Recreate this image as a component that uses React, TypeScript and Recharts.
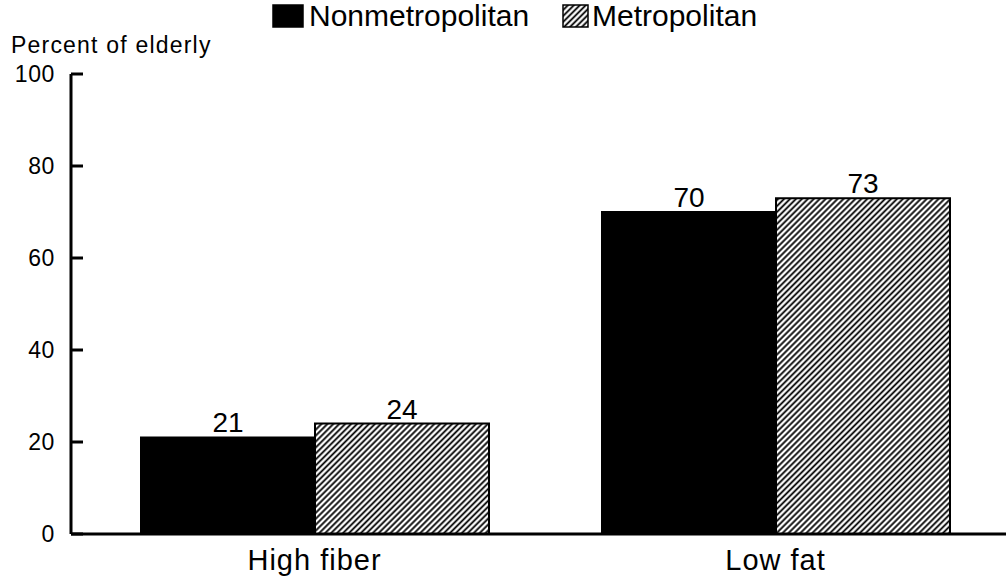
import { Bar, BarChart, LabelList, Legend, XAxis, YAxis } from "recharts";

const categories = ["High fiber", "Low fat"];
const seriesNames = ["Nonmetropolitan", "Metropolitan"];
const nonmetroValues = [21, 70];
const metroValues = [24, 73];
const yTicks = [0, 20, 40, 60, 80, 100];

const data = categories.map((name, i) => ({
  name,
  nonmetro: nonmetroValues[i],
  metro: metroValues[i],
}));

const FONT = '"Liberation Sans", Arial, Helvetica, sans-serif';

function YTick({ x, y, payload }: any) {
  return (
    <g>
      <line x1={x + 16} x2={x + 28} y1={y} y2={y} stroke="#000" strokeWidth={3} />
      <text x={x} y={y} dy="0.36em" textAnchor="end" fontFamily={FONT} fontSize={23} letterSpacing={0.6} fill="#000">
        {payload.value}
      </text>
    </g>
  );
}

function XTick({ x, y, payload }: any) {
  return (
    <text x={x} y={y} dy="0.71em" textAnchor="middle" fontFamily={FONT} fontSize={29} letterSpacing={1} fill="#000">
      {payload.value}
    </text>
  );
}

// legend sits above the plot, one slot per series in drawing order
const legendSlots = [
  { icon: 273, iconW: 30, text: 309 },
  { icon: 563, iconW: 25, text: 592 },
];

function LegendRow({ payload }: any) {
  const entries = [...(payload ?? [])].sort(
    (a: any, b: any) => seriesNames.indexOf(a.value) - seriesNames.indexOf(b.value)
  );
  return (
    <svg width={1006} height={40}>
      {entries.map((entry: any, i: number) => {
        const slot = legendSlots[i];
        if (!slot) return null;
        return (
          <g key={entry.value}>
            <rect
              x={slot.icon}
              y={5}
              width={slot.iconW}
              height={22}
              fill={i === 0 ? "#000" : "url(#hatch)"}
              stroke="#000"
              strokeWidth={1.5}
            />
            <text x={slot.text} y={26} fontFamily={FONT} fontSize={30} fill="#000">
              {entry.value}
            </text>
          </g>
        );
      })}
    </svg>
  );
}

export default function App() {
  return (
    <div style={{ position: "absolute", left: 0, top: 0, background: "#fff" }}>
      <svg width={0} height={0} style={{ position: "absolute" }}>
        <defs>
          <pattern id="hatch" patternUnits="userSpaceOnUse" width={4.2} height={4.2} patternTransform="rotate(45)">
            <rect width={4.2} height={4.2} fill="#fff" />
            <line x1={2.1} y1={0} x2={2.1} y2={4.2} stroke="#000" strokeWidth={1.8} />
          </pattern>
        </defs>
      </svg>
      <BarChart
        width={1006}
        height={578}
        data={data}
        margin={{ top: 74, right: 0, bottom: 0, left: 0 }}
        barSize={174}
        barGap={0}
      >
        <Legend
          content={LegendRow}
          layout="horizontal"
          align="center"
          verticalAlign="middle"
          wrapperStyle={{ top: 0, left: 0, width: 1006, height: 40 }}
        />
        <XAxis
          dataKey="name"
          height={44}
          padding={{ left: 13, right: 0 }}
          axisLine={{ stroke: "#000", strokeWidth: 3 }}
          tickLine={false}
          tickSize={0}
          tickMargin={15}
          tick={XTick}
        />
        <YAxis
          width={71}
          domain={[0, 100]}
          ticks={yTicks}
          axisLine={{ stroke: "#000", strokeWidth: 3 }}
          tickLine={false}
          tickSize={0}
          tickMargin={16}
          tick={YTick}
          label={{
            content: () => (
              <text x={11} y={53} fontFamily={FONT} fontSize={23} letterSpacing={1.2} fill="#000">
                Percent of elderly
              </text>
            ),
          }}
        />
        <Bar dataKey="nonmetro" name={seriesNames[0]} fill="#000" stroke="#000" strokeWidth={2} isAnimationActive={false}>
          <LabelList dataKey="nonmetro" position="top" offset={5} fontFamily={FONT} fontSize={28} fill="#000" />
        </Bar>
        <Bar dataKey="metro" name={seriesNames[1]} fill="url(#hatch)" stroke="#000" strokeWidth={2} isAnimationActive={false}>
          <LabelList dataKey="metro" position="top" offset={5} fontFamily={FONT} fontSize={28} fill="#000" />
        </Bar>
      </BarChart>
    </div>
  );
}
